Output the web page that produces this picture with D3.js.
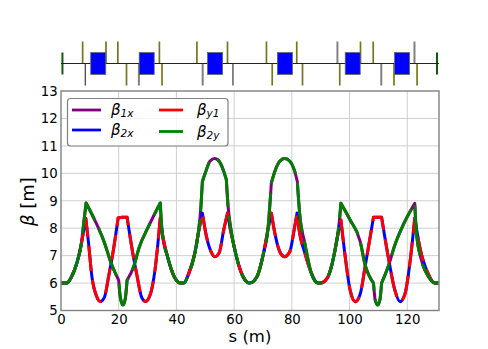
<!DOCTYPE html>
<html>
<head>
<meta charset="utf-8">
<script src="https://cdn.jsdelivr.net/npm/d3@7"></script>
<style>
  body { margin: 0; background: #fff; }
  text { font-family: "DejaVu Sans", sans-serif; fill: #000; }
</style>
</head>
<body>
<svg id="chart" width="488" height="349"></svg>
<script>
// Optics curves: s in metres, beta in metres
var sA = [0, 2, 3.7, 5.5, 7, 8, 8.7, 11.9, 15.3, 17.1, 20, 20.6, 21.5, 22.3, 22.9, 25.2, 27, 30.5, 34.4, 35.1, 36.9, 39.2, 41.5,
  42.6, 44.1, 46.4, 47.5, 48.5, 49, 50.4, 51.6, 53.3, 54.8, 56.2, 57.3, 57.9, 59.1, 60.8, 63.1, 65.4, 67.9, 70, 71.8, 72.9, 74.1, 75.8, 77.5, 79.3, 81, 81.9, 82.7, 84.5, 86.8, 89,
  89.9, 92.2, 94, 95.6, 96.4, 97, 100.2, 103.7, 105.4, 108.3, 108.9, 109.8, 110.6, 111.1, 113.4, 115.7, 118.6, 122.6, 123.2, 124.9, 127.8, 129.5, 131];
var betaA = [6, 6, 6.24, 6.73, 7.4, 8.3, 8.92, 8.25, 7.4, 6.8, 6.1, 5.45, 5.2, 5.45, 6.1, 6.6, 7.27, 8.1, 8.92, 7.8, 6.97, 6.24, 6,
  6, 6.3, 7.1, 7.76, 8.8, 9.7, 10.13, 10.44, 10.54, 10.44, 10.13, 9.77, 8.8, 7.82, 6.96, 6.23, 6, 6.23, 7, 8.06, 9.65, 10.07, 10.44, 10.54, 10.44, 10.07, 9.7, 8.55, 7.45, 6.35, 6,
  6, 6.17, 6.72, 7.57, 8.18, 8.91, 8.3, 7.51, 6.66, 6, 5.38, 5.2, 5.44, 6, 6.6, 7.39, 8.12, 8.91, 7.8, 6.84, 6.17, 6, 6];
var kinksA = [8.7, 20, 22.9, 34.4, 49, 57.3, 72.9, 81.9, 97, 108.3, 111.1, 122.6];

var sB = [0, 2, 3.7, 5.5, 7, 8, 8.6, 9.5, 10.7, 12.4, 13.6, 15.1, 16.5, 18.3, 19.8, 21.2, 22.9, 24.7, 26.4, 27.9, 29.3, 31, 32.6, 34.4, 35.3, 36.9, 39.2, 41.5,
  42.6, 44.1, 46.4, 47.5, 48.5, 49, 50.4, 52.2, 53.3, 54.8, 56.4, 57.7, 58.5, 60, 60.8, 63.1, 65.4, 67.9, 70, 71.8, 72.9, 74.1, 75.8, 77.5, 79.3, 80.8, 81.8, 82.7, 84.5, 86.8, 89,
  89.9, 92.2, 94, 95.6, 96.4, 97, 98.5, 100.2, 102, 103.7, 105.4, 108.3, 111.1, 113.4, 115.7, 117.5, 119.2, 120.9, 122.6, 124.3, 127.2, 129.5, 131];
var betaB = [6, 6, 6.24, 6.73, 7.4, 8, 8.36, 7.5, 6.24, 5.5, 5.33, 5.5, 6.24, 7.3, 8.37, 8.4, 8.4, 7.2, 6.24, 5.5, 5.33, 5.6, 6.5, 8.37, 7.7, 6.97, 6.24, 6,
  6, 6.3, 7.1, 7.76, 8.3, 8.55, 7.7, 7.1, 6.96, 7.1, 7.94, 8.55, 8.06, 7.33, 6.96, 6.23, 6, 6.23, 7, 8, 8.55, 7.82, 7.15, 6.96, 7.15, 7.94, 8.55, 7.82, 7.1, 6.35, 6,
  6, 6.17, 6.72, 7.57, 8, 8.3, 6.96, 5.74, 5.32, 5.6, 6.6, 8.4, 8.4, 6.96, 5.74, 5.32, 5.6, 6.72, 8.37, 7.33, 6.35, 6, 6];
var kinksB = [8.6, 19.8, 22.9, 34.4, 49, 57.7, 72.9, 81.8, 97, 108.3, 111.1, 122.6];

// Lattice strip: element positions along s
var dipoleStart = [10.3, 27.1, 50.8, 75, 98.5, 115.6];
var dipoleLength = 5.2;
var olivesUp = [7.5, 15.6, 19.7, 34.1, 47.1, 57.7, 71.2, 81.7, 103.8, 108.2];
var olivesDown = [22.7, 35, 73.2, 83.7, 96.6, 115.4, 123.4];
var blacksDown = [8.4, 59.6];
var graysUp = [95.8, 122.5];
var graysDown = [27, 49.1, 111];
var markers = [0.5, 130.3];

var xTicks = [0, 20, 40, 60, 80, 100, 120];
var yTicks = [5, 6, 7, 8, 9, 10, 11, 12, 13];

var series = [
  { sub: "1x", greek: "β", color: "purple", s: sA, beta: betaA, kinks: kinksA, dash: null },
  { sub: "2x", greek: "β", color: "blue", s: sB, beta: betaB, kinks: kinksB, dash: null },
  { sub: "y1", greek: "β", color: "red", s: sB, beta: betaB, kinks: kinksB, dash: "25,9" },
  { sub: "2y", greek: "β", color: "green", s: sA, beta: betaA, kinks: kinksA, dash: "50,9" }
];

var svg = d3.select("#chart");

var plotLeft = 61, plotRight = 439, plotTop = 91, plotBottom = 310.5;

var x = d3.scaleLinear().domain([0, 131]).range([plotLeft, plotRight]);
var y = d3.scaleLinear().domain([5, 13]).range([plotBottom, plotTop]);

// Grid
svg.append("g").selectAll("line").data(xTicks.slice(1)).enter().append("line")
  .attr("x1", function (d) { return x(d); }).attr("x2", function (d) { return x(d); })
  .attr("y1", plotTop).attr("y2", plotBottom)
  .attr("stroke", "#cfcfcf").attr("stroke-width", 1);
svg.append("g").selectAll("line").data(yTicks.slice(1, -1)).enter().append("line")
  .attr("x1", plotLeft).attr("x2", plotRight)
  .attr("y1", function (d) { return y(d); }).attr("y2", function (d) { return y(d); })
  .attr("stroke", "#cfcfcf").attr("stroke-width", 1);

// Curves: smooth between the kinks, sharp at them, one path so the dashes run on
var line = d3.line().curve(d3.curveMonotoneX);

function curvePath(d) {
  var pts = d.s.map(function (v, i) { return [x(v), y(d.beta[i])]; });
  var parts = [], cur = [];
  pts.forEach(function (p, i) {
    cur.push(p);
    if (d.kinks.indexOf(d.s[i]) >= 0) {
      parts.push(cur);
      cur = [p];
    }
  });
  parts.push(cur);
  return parts.map(function (part, i) {
    var path = line(part);
    return i === 0 ? path : path.replace(/^M/, "L");
  }).join("");
}

series.forEach(function (d) {
  svg.append("path")
    .attr("d", curvePath(d))
    .attr("fill", "none")
    .attr("stroke", d.color)
    .attr("stroke-width", 3)
    .attr("stroke-linejoin", "round")
    .attr("stroke-dasharray", d.dash);
});

// Axes
var xAxis = svg.append("g").attr("transform", "translate(0," + plotBottom + ")")
  .call(d3.axisBottom(x).tickValues(xTicks).tickSize(0).tickPadding(4.5));
var yAxis = svg.append("g").attr("transform", "translate(" + plotLeft + ",0)")
  .call(d3.axisLeft(y).tickValues(yTicks).tickSize(0).tickPadding(3.3));
[xAxis, yAxis].forEach(function (a) {
  a.selectAll("text").style("font-size", "13.3px").style("font-family", "DejaVu Sans");
  a.select(".domain").remove();
});

svg.append("rect")
  .attr("x", plotLeft).attr("y", plotTop)
  .attr("width", plotRight - plotLeft).attr("height", plotBottom - plotTop)
  .attr("fill", "none").attr("stroke", "#808080").attr("stroke-width", 1.4);

svg.append("text")
  .attr("x", 250).attr("y", 341.7)
  .attr("text-anchor", "middle")
  .style("font-size", "16.5px")
  .text("s (m)");

var yLabel = svg.append("text")
  .attr("transform", "translate(34,201.5) rotate(-90)")
  .attr("text-anchor", "middle")
  .style("font-size", "18px");
yLabel.append("tspan").style("font-style", "italic").text("β");
yLabel.append("tspan").text(" [m]");

// Legend
var legend = svg.append("g");
legend.append("rect")
  .attr("x", 67.5).attr("y", 98.5).attr("width", 160.5).attr("height", 47.5).attr("rx", 3)
  .attr("fill", "#fff").attr("fill-opacity", 0.8)
  .attr("stroke", "#808080").attr("stroke-width", 1.2);

var legendX = [72, 159];
var legendLen = [29, 24];
var legendTextX = [111, 197];
var legendY = [[110, 130], [110, 131.5]];
series.forEach(function (d, i) {
  var col = i < 2 ? 0 : 1, row = i % 2;
  legend.append("line")
    .attr("x1", legendX[col]).attr("x2", legendX[col] + legendLen[col])
    .attr("y1", legendY[col][row]).attr("y2", legendY[col][row])
    .attr("stroke", d.color).attr("stroke-width", 2.8);
  var t = legend.append("text")
    .attr("x", legendTextX[col]).attr("y", legendY[col][row] + 5)
    .style("font-size", "15px").style("font-style", "italic");
  t.append("tspan").text(d.greek);
  t.append("tspan").attr("dy", 2).style("font-size", "10.5px").text(d.sub);
});

// Lattice strip above the plot
var latY = d3.scaleLinear().domain([-1, 1]).range([85.5, 41.5]);
var strip = svg.append("g");

function sticks(values, from, to, color, width) {
  strip.append("g").selectAll("line").data(values).enter().append("line")
    .attr("x1", function (d) { return x(d); }).attr("x2", function (d) { return x(d); })
    .attr("y1", latY(from)).attr("y2", latY(to))
    .attr("stroke", color).attr("stroke-width", width);
}

sticks(olivesUp, 0, 1, "#77771a", 1.7);
sticks(olivesDown, 0, -1, "#77771a", 1.7);
sticks(graysUp, 0, 1, "#808080", 2);
sticks(graysDown, 0, -1, "#808080", 2);
sticks(blacksDown, 0, -1, "#111", 1);
sticks(markers, -0.5, 0.5, "#0d5c0d", 2);

strip.append("line")
  .attr("x1", x(0)).attr("x2", x(131))
  .attr("y1", latY(0)).attr("y2", latY(0))
  .attr("stroke", "#222").attr("stroke-width", 1);

strip.append("g").selectAll("rect").data(dipoleStart).enter().append("rect")
  .attr("x", function (d) { return x(d); })
  .attr("y", latY(0.5))
  .attr("width", function (d) { return x(d + dipoleLength) - x(d); })
  .attr("height", latY(-0.5) - latY(0.5))
  .attr("fill", "#0000ff")
  .attr("stroke", "#666").attr("stroke-width", 0.8);
</script>
</body>
</html>
